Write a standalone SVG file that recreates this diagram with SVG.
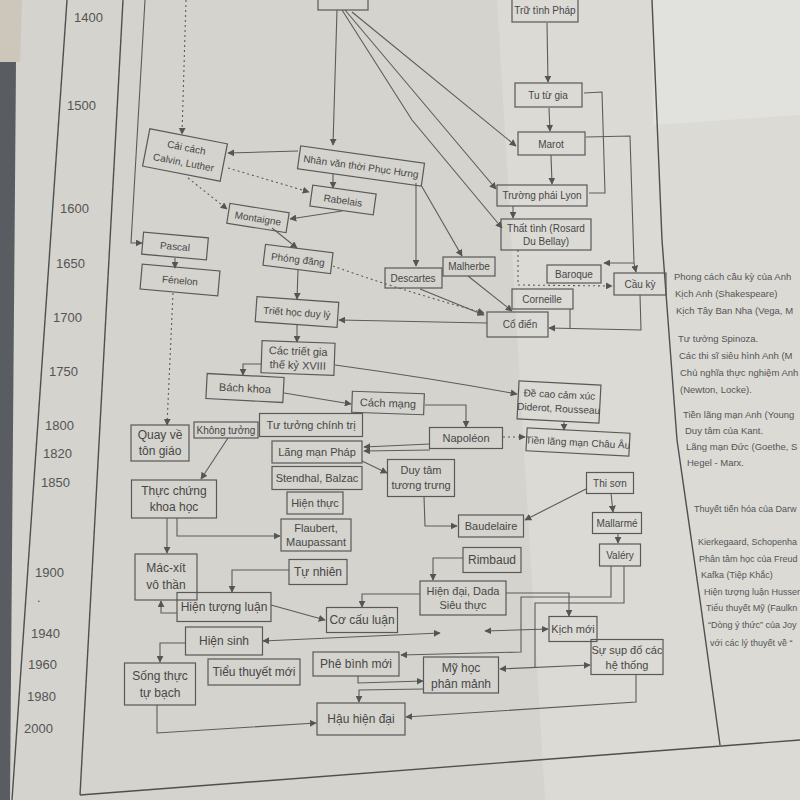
<svg xmlns="http://www.w3.org/2000/svg" width="800" height="800" viewBox="0 0 800 800">
<defs>
<style>
.bx{fill:none;stroke:#595959;stroke-width:1.2}
.t{font-family:"Liberation Sans",Arial,sans-serif;fill:#474747;text-anchor:middle}
.f10{font-size:10px}.f11{font-size:11px}.f12{font-size:12px}
.c{fill:none;stroke:#5c5c5c;stroke-width:1.1}
.d{stroke-dasharray:2 3}
.yr{font-family:"Liberation Sans",Arial,sans-serif;font-size:13px;fill:#555}
.rt{font-family:"Liberation Sans",Arial,sans-serif;font-size:9.5px;fill:#555}
.rs{font-family:"Liberation Sans",Arial,sans-serif;font-size:9px;fill:#555}
.pg{fill:none;stroke:#4f4f4f;stroke-width:1.4}
</style>
<marker id="ar" viewBox="0 0 10 10" refX="9" refY="5" markerWidth="7" markerHeight="7" markerUnits="userSpaceOnUse" orient="auto-start-reverse">
<path d="M0,0 L10,5 L0,10 z" fill="#555"/>
</marker>
</defs>

<!-- page background -->
<rect x="0" y="0" width="800" height="800" fill="#d4d3cd"/>
<polygon points="497,0 800,0 800,800 545,800" fill="#dbdad5"/>
<polygon points="652,0 800,0 800,115 653,125" fill="#e1e1dd"/>
<polygon points="0,0 22,0 20,62 0,62" fill="#cdc6bb"/>
<polygon points="0,62 16,62 10,800 0,800" fill="#595c61"/>

<!-- page frame lines -->
<g id="frame">
<line class="pg" x1="67" y1="0" x2="12" y2="800"/>
<line class="pg" x1="123" y1="0" x2="80" y2="795"/>
<line class="pg" x1="80" y1="795" x2="800" y2="740"/>
<polyline class="pg" points="652,0 662,240 677,440 700,600 720,745"/>
</g>

<!-- years -->
<g id="years">
<text class="yr" x="74" y="22">1400</text>
<text class="yr" x="67" y="110">1500</text>
<text class="yr" x="60" y="213">1600</text>
<text class="yr" x="56" y="268">1650</text>
<text class="yr" x="53" y="322">1700</text>
<text class="yr" x="49" y="376">1750</text>
<text class="yr" x="45" y="430">1800</text>
<text class="yr" x="43" y="458">1820</text>
<text class="yr" x="41" y="487">1850</text>
<text class="yr" x="35" y="577">1900</text>
<text class="yr" x="37" y="602">.</text>
<text class="yr" x="31" y="638">1940</text>
<text class="yr" x="28" y="669">1960</text>
<text class="yr" x="27" y="701">1980</text>
<text class="yr" x="24" y="733">2000</text>
</g>

<!-- right column text -->
<g id="notes">
<text class="rt" x="674" y="280">Phong cách cầu kỳ của Anh</text>
<text class="rt" x="675" y="297">Kịch Anh (Shakespeare)</text>
<text class="rt" x="676" y="314">Kịch Tây Ban Nha (Vega, M</text>
<text class="rt" x="678" y="342">Tư tưởng Spinoza.</text>
<text class="rt" x="679" y="359">Các thi sĩ siêu hình Anh (M</text>
<text class="rt" x="680" y="376">Chủ nghĩa thực nghiệm Anh</text>
<text class="rt" x="680" y="393">(Newton, Locke).</text>
<text class="rt" x="683" y="418">Tiền lãng mạn Anh (Young</text>
<text class="rt" x="685" y="434">Duy tâm của Kant.</text>
<text class="rt" x="686" y="450">Lãng mạn Đức (Goethe, S</text>
<text class="rt" x="687" y="466">Hegel - Marx.</text>
<text class="rs" x="694" y="512">Thuyết tiến hóa của Darw</text>
<text class="rs" x="698" y="545">Kierkegaard, Schopenha</text>
<text class="rs" x="699" y="562">Phân tâm học của Freud</text>
<text class="rs" x="701" y="578">Kafka (Tiệp Khắc)</text>
<text class="rs" x="704" y="595">Hiện tượng luận Husser</text>
<text class="rs" x="706" y="611">Tiểu thuyết Mỹ (Faulkn</text>
<text class="rs" x="708" y="628">“Dòng ý thức” của Joy</text>
<text class="rs" x="710" y="646">với các lý thuyết về “</text>
</g>

<!-- connectors -->
<g id="connectors">
<path class="c" d="M337,10 L333,145" marker-end="url(#ar)"/>
<path class="c" d="M342,10 L412,120 L502,228" marker-end="url(#ar)"/>
<path class="c" d="M345,10 L496,189" marker-end="url(#ar)"/>
<path class="c" d="M352,12 L516,146" marker-end="url(#ar)"/>
<path class="c d" d="M186,0 L182,134" marker-end="url(#ar)"/>
<path class="c" d="M298,151 L228,153" marker-end="url(#ar)"/>
<path class="c d" d="M228,168 L309,192" marker-end="url(#ar)"/>
<path class="c d" d="M188,178 L227,209" marker-end="url(#ar)"/>
<path class="c" d="M333,174 L333,188" marker-end="url(#ar)"/>
<path class="c" d="M342,211 L290,219" marker-end="url(#ar)"/>
<path class="c" d="M272,228 L297,248" marker-end="url(#ar)"/>
<path class="c" d="M145,0 L131,243 L142,243" marker-end="url(#ar)"/>
<path class="c" d="M175,258 L175,268" marker-end="url(#ar)"/>
<path class="c d" d="M173,293 L167,425" marker-end="url(#ar)"/>
<path class="c" d="M298,270 L297,299" marker-end="url(#ar)"/>
<path class="c" d="M297,325 L297,342" marker-end="url(#ar)"/>
<path class="c" d="M262,364 L243,364 L243,375" marker-end="url(#ar)"/>
<path class="c" d="M335,365 Q430,378 517,394" marker-end="url(#ar)"/>
<path class="c" d="M284,393 L351,404" marker-end="url(#ar)"/>
<path class="c" d="M425,405 L466,405 L466,427" marker-end="url(#ar)"/>
<path class="c" d="M564,421 L564,430" marker-end="url(#ar)"/>
<path class="c d" d="M503,437 L525,437" marker-end="url(#ar)"/>
<path class="c" d="M430,444 L364,447" marker-end="url(#ar)"/>
<path class="c" d="M430,450 L364,451" marker-end="url(#ar)"/>
<path class="c" d="M228,438 L201,479" marker-end="url(#ar)"/>
<path class="c" d="M362,461 L387,473" marker-end="url(#ar)"/>
<path class="c" d="M424,496 L425,526 L457,526" marker-end="url(#ar)"/>
<path class="c" d="M586,489 L525,520" marker-end="url(#ar)"/>
<path class="c" d="M611,493 L613,512" marker-end="url(#ar)"/>
<path class="c" d="M618,533 L618,543" marker-end="url(#ar)"/>
<path class="c" d="M611,566 L611,597 L521,597 L521,652 L401,655" marker-end="url(#ar)"/>
<path class="c" d="M624,566 L624,603 L535,603 L535,668"/>
<path class="c" d="M463,558 L433,558 L433,580" marker-end="url(#ar)"/>
<path class="c" d="M420,594 L362,594 L362,607" marker-end="url(#ar)"/>
<path class="c" d="M271,605 L325,620" marker-end="url(#ar)"/>
<path class="c" d="M177,613 L161,613 L161,601" marker-end="url(#ar)"/>
<path class="c" d="M289,570 L232,570 L232,592" marker-end="url(#ar)"/>
<path class="c" d="M167,518 L167,553" marker-end="url(#ar)"/>
<path class="c" d="M177,518 L177,536 L280,536" marker-end="url(#ar)"/>
<path class="c" d="M506,593 L569,593 L569,616" marker-end="url(#ar)"/>
<path class="c" d="M440,633 L263,641" marker-start="url(#ar)" marker-end="url(#ar)"/>
<path class="c" d="M485,631 L548,629" marker-start="url(#ar)" marker-end="url(#ar)"/>
<path class="c" d="M500,669 L590,665" marker-start="url(#ar)" marker-end="url(#ar)"/>
<path class="c" d="M636,675 L636,702 L406,717" marker-end="url(#ar)"/>
<path class="c" d="M185,643 L160,643 L160,662" marker-end="url(#ar)"/>
<path class="c" d="M157,705 L157,733 L316,723" marker-end="url(#ar)"/>
<path class="c" d="M358,676 L358,683 L423,681" marker-end="url(#ar)"/>
<path class="c" d="M424,689 L359,690 L359,702" marker-end="url(#ar)"/>
<path class="c" d="M586,137 L630,136 L634,263 L604,263" marker-end="url(#ar)"/>
<path class="c" d="M634,263 L636,272" marker-end="url(#ar)"/>
<path class="c" d="M584,93 L602,92 L605,193 L589,193"/>
<path class="c" d="M547,23 L548,82" marker-end="url(#ar)"/>
<path class="c" d="M549,108 L550,131" marker-end="url(#ar)"/>
<path class="c" d="M551,155 L552,184" marker-end="url(#ar)"/>
<path class="c" d="M513,206 L513,218" marker-end="url(#ar)"/>
<path class="c d" d="M518,250 L518,285 L612,286" marker-end="url(#ar)"/>
<path class="c" d="M640,295 L641,330 L549,328" marker-end="url(#ar)"/>
<path class="c" d="M570,309 L570,329"/>
<path class="c" d="M416,183 L416,266" marker-end="url(#ar)"/>
<path class="c" d="M421,185 L462,256" marker-end="url(#ar)"/>
<path class="c" d="M420,289 L484,315" marker-end="url(#ar)"/>
<path class="c" d="M468,276 L512,311" marker-end="url(#ar)"/>
<path class="c d" d="M333,266 Q400,290 484,313" marker-end="url(#ar)"/>
<path class="c" d="M487,323 L339,320" marker-end="url(#ar)"/>
</g>

<!-- nodes -->
<g id="n-top"><rect class="bx" x="318" y="-14" width="50" height="24"/></g>
<g id="n-trutinh"><rect class="bx" x="512" y="-2" width="66" height="24"/><text class="t f10" x="545" y="14">Trữ tình Pháp</text></g>
<g id="n-tutugia"><rect class="bx" x="515" y="83" width="67" height="24"/><text class="t f10" x="548" y="99">Tu từ gia</text></g>
<g id="n-marot"><rect class="bx" x="518" y="132" width="67" height="23"/><text class="t f10" x="551" y="148">Marot</text></g>
<g id="n-lyon"><rect class="bx" x="497" y="185" width="90" height="21"/><text class="t f10" x="542" y="199">Trường phái Lyon</text></g>
<g id="n-thattinh"><rect class="bx" x="501" y="219" width="90" height="31"/><text class="t f10" x="546" y="232">Thất tình (Rosard</text><text class="t f10" x="546" y="245">Du Bellay)</text></g>
<g id="n-baroque"><rect class="bx" x="547" y="265" width="54" height="18"/><text class="t f10" x="574" y="278">Baroque</text></g>
<g id="n-cauky"><rect class="bx" x="614" y="273" width="52" height="22"/><text class="t f10" x="640" y="288">Cầu kỳ</text></g>
<g id="n-corneille"><rect class="bx" x="512" y="289" width="61" height="20"/><text class="t f10" x="542" y="303">Corneille</text></g>
<g id="n-codien"><rect class="bx" x="487" y="312" width="61" height="25"/><text class="t f10" x="520" y="328">Cổ điển</text></g>
<g id="n-malherbe"><rect class="bx" x="443" y="257" width="52" height="19"/><text class="t f10" x="469" y="270">Malherbe</text></g>
<g id="n-descartes"><rect class="bx" x="385" y="268" width="57" height="20"/><text class="t f10" x="413" y="282">Descartes</text></g>
<g id="n-nhanvan" transform="rotate(8 361 166)"><rect class="bx" x="298.5" y="154.5" width="125" height="23"/><text class="t f10" x="361" y="170">Nhân văn thời Phục Hưng</text></g>
<g id="n-caicach" transform="rotate(11 185 155)"><rect class="bx" x="145.5" y="136" width="79" height="38"/><text class="t f10" x="185" y="151">Cải cách</text><text class="t f10" x="185" y="166">Calvin, Luther</text></g>
<g id="n-rabelais" transform="rotate(8 343 200)"><rect class="bx" x="311" y="189.5" width="64" height="21"/><text class="t f10" x="343" y="204">Rabelais</text></g>
<g id="n-montaigne" transform="rotate(9 258 218)"><rect class="bx" x="228" y="208" width="60" height="20"/><text class="t f10" x="258" y="222">Montaigne</text></g>
<g id="n-pascal" transform="rotate(5 175 246)"><rect class="bx" x="142.5" y="235" width="65" height="22"/><text class="t f10" x="175" y="250">Pascal</text></g>
<g id="n-fenelon" transform="rotate(5 180 280)"><rect class="bx" x="141" y="267.5" width="78" height="25"/><text class="t f10" x="180" y="284">Fénelon</text></g>
<g id="n-phongdang" transform="rotate(7 298 259)"><rect class="bx" x="264" y="248.5" width="68" height="21"/><text class="t f10" x="298" y="263">Phóng đãng</text></g>
<g id="n-trietduyly" transform="rotate(4 297 312)"><rect class="bx" x="256" y="299.5" width="82" height="25"/><text class="t f10" x="297" y="316">Triết học duy lý</text></g>
<g id="n-triettxviii" transform="rotate(2 298 358)"><rect class="bx" x="261.5" y="342" width="73" height="32"/><text class="t f11" x="298" y="355">Các triết gia</text><text class="t f11" x="298" y="369">thế kỷ XVIII</text></g>
<g id="n-bachkhoa" transform="rotate(3 245 388)"><rect class="bx" x="206.5" y="375.5" width="77" height="25"/><text class="t f11" x="245" y="392">Bách khoa</text></g>
<g id="n-cachmang" transform="rotate(2 388 403)"><rect class="bx" x="352" y="392.5" width="72" height="21"/><text class="t f11" x="388" y="407">Cách mạng</text></g>
<g id="n-decao" transform="rotate(3 559 402)"><rect class="bx" x="518" y="383" width="82" height="38"/><text class="t f10" x="559" y="398">Đề cao cảm xúc</text><text class="t f10" x="559" y="412">Diderot, Rousseau</text></g>
<g id="n-napoleon"><rect class="bx" x="429.5" y="427.5" width="73" height="21"/><text class="t f11" x="466" y="442">Napoléon</text></g>
<g id="n-tienlangman" transform="rotate(3 578 442)"><rect class="bx" x="526.5" y="430.5" width="103" height="23"/><text class="t f10" x="578" y="446">Tiền lãng mạn Châu Âu</text></g>
<g id="n-tutuong"><rect class="bx" x="259.5" y="413.5" width="103" height="23"/><text class="t f11" x="311" y="429">Tư tưởng chính trị</text></g>
<g id="n-khongtuong"><rect class="bx" x="194" y="422" width="64" height="16"/><text class="t f10" x="226" y="434">Không tưởng</text></g>
<g id="n-quayve"><rect class="bx" x="131" y="425" width="58" height="36"/><text class="t f12" x="160" y="439">Quay về</text><text class="t f12" x="160" y="455">tôn giáo</text></g>
<g id="n-langmanphap"><rect class="bx" x="272" y="441" width="90" height="22"/><text class="t f11" x="317" y="456">Lãng mạn Pháp</text></g>
<g id="n-stendhal"><rect class="bx" x="272" y="466.5" width="90" height="23"/><text class="t f11" x="317" y="482">Stendhal, Balzac</text></g>
<g id="n-hienthuc"><rect class="bx" x="287" y="492" width="56" height="22"/><text class="t f11" x="315" y="507">Hiện thực</text></g>
<g id="n-flaubert"><rect class="bx" x="281" y="519" width="70" height="32"/><text class="t f11" x="316" y="532">Flaubert,</text><text class="t f11" x="316" y="546">Maupassant</text></g>
<g id="n-duytam"><rect class="bx" x="387.5" y="459.5" width="67" height="37"/><text class="t f11" x="421" y="474">Duy tâm</text><text class="t f11" x="421" y="489">tương trưng</text></g>
<g id="n-baudelaire"><rect class="bx" x="458.5" y="515" width="65" height="22"/><text class="t f11" x="491" y="530">Baudelaire</text></g>
<g id="n-thison"><rect class="bx" x="586.5" y="472.5" width="47" height="21"/><text class="t f10" x="610" y="487">Thi sơn</text></g>
<g id="n-mallarme"><rect class="bx" x="592.5" y="512.5" width="49" height="21"/><text class="t f10" x="617" y="527">Mallarmé</text></g>
<g id="n-valery"><rect class="bx" x="599.5" y="544" width="41" height="22"/><text class="t f10" x="620" y="559">Valéry</text></g>
<g id="n-thucchung"><rect class="bx" x="131.5" y="480" width="85" height="38"/><text class="t f12" x="174" y="495">Thực chứng</text><text class="t f12" x="174" y="511">khoa học</text></g>
<g id="n-macxit"><rect class="bx" x="135" y="554" width="62" height="46"/><text class="t f12" x="166" y="572">Mác-xít</text><text class="t f12" x="166" y="589">vô thần</text></g>
<g id="n-hientuongluan"><rect class="bx" x="177" y="592.5" width="94" height="29"/><text class="t f12" x="224" y="611">Hiện tượng luận</text></g>
<g id="n-tunhien"><rect class="bx" x="289" y="559.5" width="58" height="25"/><text class="t f12" x="318" y="576">Tự nhiên</text></g>
<g id="n-rimbaud"><rect class="bx" x="463" y="547.5" width="58" height="25"/><text class="t f12" x="492" y="564">Rimbaud</text></g>
<g id="n-hiendai"><rect class="bx" x="420" y="581" width="86" height="34"/><text class="t f11" x="463" y="595">Hiện đại, Dada</text><text class="t f11" x="463" y="609">Siêu thực</text></g>
<g id="n-cocauluan"><rect class="bx" x="326.5" y="607.5" width="71" height="25"/><text class="t f12" x="362" y="624">Cơ cấu luận</text></g>
<g id="n-kichmoi"><rect class="bx" x="549" y="616.5" width="48" height="25"/><text class="t f11" x="573" y="633">Kịch mới</text></g>
<g id="n-supdo"><rect class="bx" x="591" y="639.5" width="72" height="35"/><text class="t f11" x="627" y="654">Sự sụp đổ các</text><text class="t f11" x="627" y="669">hệ thống</text></g>
<g id="n-hiensinh"><rect class="bx" x="185.5" y="627" width="77" height="28"/><text class="t f12" x="224" y="645">Hiện sinh</text></g>
<g id="n-tieuthuyetmoi"><rect class="bx" x="208" y="659" width="92" height="26"/><text class="t f12" x="254" y="676">Tiểu thuyết mới</text></g>
<g id="n-songthuc"><rect class="bx" x="124.5" y="663" width="71" height="42"/><text class="t f12" x="160" y="680">Sống thực</text><text class="t f12" x="160" y="697">tự bạch</text></g>
<g id="n-phebinh"><rect class="bx" x="313" y="652" width="86" height="24"/><text class="t f12" x="356" y="668">Phê bình mới</text></g>
<g id="n-myhoc"><rect class="bx" x="423.5" y="657" width="75" height="36"/><text class="t f12" x="461" y="672">Mỹ học</text><text class="t f12" x="461" y="688">phân mảnh</text></g>
<g id="n-hauhiendai"><rect class="bx" x="317" y="703" width="88" height="32"/><text class="t f12" x="361" y="723">Hậu hiện đại</text></g>
</svg>
